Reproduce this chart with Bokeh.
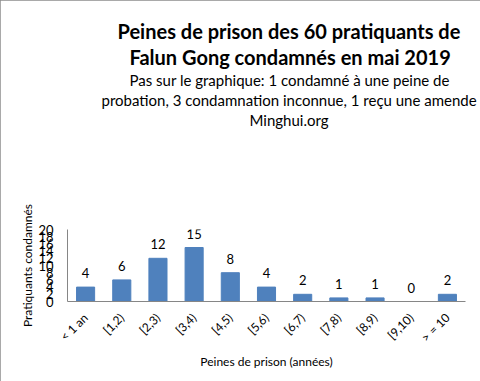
from bokeh.plotting import figure
from bokeh.models import ColumnDataSource, Range1d, FixedTicker, LabelSet, Title
from bokeh.core.properties import value
from bokeh.embed import file_html
from bokeh.resources import INLINE

categories = ["< 1 an", "[1,2)", "[2,3)", "[3,4)", "[4,5)", "[5,6)", "[6,7)", "[7,8)", "[8,9)", "[9,10)", "> = 10"]
values = [4, 6, 12, 15, 8, 4, 2, 1, 1, 0, 2]
y_ticks = [0, 2, 4, 6, 8, 10, 12, 14, 16, 18, 20]

title_lines = ["Peines de prison des 60 pratiquants de", "Falun Gong condamnés en mai 2019"]
subtitle_lines = ["Pas sur le graphique: 1 condamné à une peine de",
                  "probation, 3 condamnation inconnue, 1 reçu une amende",
                  "Minghui.org"]

FONT = "Lato"
src = ColumnDataSource(dict(cat=categories, val=values, lab=[str(v) for v in values]))

p = figure(x_range=categories, y_range=Range1d(0, 20), width=480, height=381,
           output_backend="svg", toolbar_location=None,
           min_border_left=67, min_border_right=15, min_border_bottom=80, min_border_top=229)
p.styles = {"outline": "1px solid #8c8c8c", "outline-offset": "-1px"}
p.vbar(x="cat", top="val", width=0.5, source=src, color="#4F81BD")
p.add_layout(LabelSet(x="cat", y="val", text="lab", source=src, y_offset=9,
                      text_align="center", text_baseline="bottom",
                      text_font=value(FONT), text_font_size="13px", text_color="#000000"))

p.x_range.range_padding = 0
p.xgrid.grid_line_color = None
p.ygrid.grid_line_color = None
p.outline_line_color = None

p.yaxis.ticker = FixedTicker(ticks=y_ticks)
p.yaxis.axis_label = "Pratiquants condamnés"
p.xaxis.axis_label = "Peines de prison (années)"
for ax in (p.xaxis, p.yaxis):
    ax.axis_line_color = "#868686"
    ax.major_tick_line_color = None
    ax.minor_tick_line_color = None
    ax.major_label_text_font = FONT
    ax.axis_label_text_font = FONT
    ax.axis_label_text_font_style = "normal"
    ax.axis_label_text_font_size = "12px"
    ax.major_label_text_color = "#000000"
    ax.axis_label_text_color = "#000000"
p.yaxis.major_label_text_font_size = "13px"
p.yaxis.major_tick_out = 0
p.yaxis.major_label_standoff = 14
p.xaxis.major_label_text_font_size = "12px"
p.xaxis.major_label_orientation = 0.785
p.xaxis.major_label_standoff = 8
p.xaxis.axis_label_standoff = 1
p.yaxis.axis_label_standoff = 0

# title block stacked above the frame (first added sits nearest the frame)
p.add_layout(Title(text=" ", text_font_size="80px"), "above")
sub_offsets = [62, 34, 182]
title_offsets = [50, 62]
for t, off in reversed(list(zip(subtitle_lines, sub_offsets))):
    p.add_layout(Title(text=t, align="left", offset=off, text_font=FONT, text_color="#000000",
                       text_font_size="15px", text_font_style="normal", standoff=0), "above")
for t, off in reversed(list(zip(title_lines, title_offsets))):
    p.add_layout(Title(text=t, align="left", offset=off, text_font=FONT, text_color="#000000",
                       text_font_size="20px", text_font_style="bold", standoff=0), "above")

open("out.html", "w").write(file_html(p, INLINE))
